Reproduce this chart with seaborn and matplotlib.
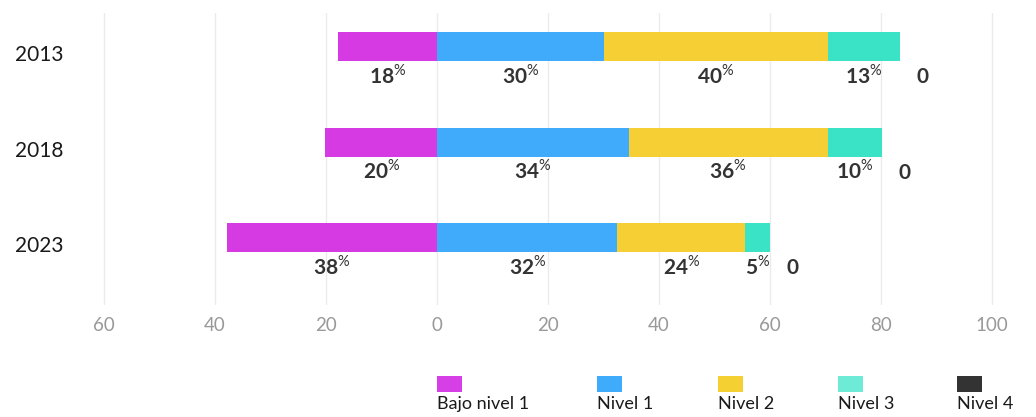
import numpy as np
import pandas as pd
import matplotlib.pyplot as plt
import matplotlib.transforms as mtransforms
from matplotlib.patches import Rectangle
import seaborn as sns

# Data
years = ["2013", "2018", "2023"]
bajo_nivel1 = [17.8, 20.1, 37.9]
nivel1 = [30.0, 34.5, 32.5]
nivel2 = [40.5, 35.9, 23.0]
nivel3 = [12.9, 9.7, 4.5]
nivel4 = [0.0, 0.0, 0.0]

bajo_lbl = [18, 20, 38]
n1_lbl = [30, 34, 32]
n2_lbl = [40, 36, 24]
n3_lbl = [13, 10, 5]
n4_lbl = [0, 0, 0]

legend_names = ["Bajo nivel 1", "Nivel 1", "Nivel 2", "Nivel 3", "Nivel 4"]
bar_colors = ["#d63be3", "#3fabfa", "#f5cf33", "#3ae2c6", "#333333"]
legend_colors = ["#d63ee6", "#3fabfb", "#f5d033", "#6eebd7", "#333333"]
xticks = [-60, -40, -20, 0, 20, 40, 60, 80, 100]

# Style
sns.set_style("white")
plt.rcParams["font.family"] = ["Lato", "DejaVu Sans"]
plt.rcParams["mathtext.fontset"] = "custom"
plt.rcParams["mathtext.rm"] = "Lato"
plt.rcParams["mathtext.bf"] = "Lato:bold"

df = pd.DataFrame({"year": years, "bajo": bajo_nivel1, "n1": nivel1,
                   "n2": nivel2, "n3": nivel3, "n4": nivel4})
df["c1"] = df["n1"]
df["c2"] = df["c1"] + df["n2"]
df["c3"] = df["c2"] + df["n3"]
df["c4"] = df["c3"] + df["n4"]
df["neg"] = -df["bajo"]

fig = plt.figure(figsize=(10.36, 4.17), dpi=100)
ax = fig.add_axes([0.0736, 0.269, 0.9108, 0.700])

bw = 0.304
# stacked by drawing cumulative totals first, then overlaying
for col, c in [("c4", bar_colors[4]), ("c3", bar_colors[3]), ("c2", bar_colors[2]),
               ("c1", bar_colors[1]), ("neg", bar_colors[0])]:
    sns.barplot(data=df, x=col, y="year", orient="h", color=c, saturation=1,
                width=bw, errorbar=None, linewidth=0, ax=ax)

ax.set_xlim(-65, 105)
ax.set_ylim(2.705, -0.353)
ax.set_xticks(xticks)
ax.set_xticklabels([str(abs(t)) for t in xticks], color="#999999", fontsize=13.5)
ax.tick_params(axis="x", length=0, pad=9)
ax.tick_params(axis="y", length=0, pad=9, labelsize=15, labelcolor="#1a1a1a")
ax.set_xlabel("")
ax.set_ylabel("")
ax.grid(axis="x", color="#ebebeb", linewidth=1)
ax.grid(axis="y", visible=False)
ax.set_axisbelow(True)
sns.despine(ax=ax, left=True, bottom=True)

# nudge year labels down a bit, like the original
off = mtransforms.ScaledTranslation(0, -6.5 / 100, fig.dpi_scale_trans)
for lab in ax.get_yticklabels():
    lab.set_transform(lab.get_transform() + off)

# segment labels under each bar
def seg_label(x, y, val):
    ax.annotate(r"$\mathbf{%d}^{\mathrm{\%%}}$" % val, xy=(x, y), xytext=(0, -26.5),
                textcoords="offset points", ha="center", va="baseline",
                fontsize=15, color="#333333")

for i in range(len(years)):
    seg_label(-bajo_nivel1[i] / 2, i, bajo_lbl[i])
    seg_label(df["c1"][i] / 2, i, n1_lbl[i])
    seg_label(df["c1"][i] + nivel2[i] / 2, i, n2_lbl[i])
    seg_label(df["c2"][i] + nivel3[i] / 2, i, n3_lbl[i])
    ax.annotate(str(n4_lbl[i]), xy=(df["c4"][i], i), xytext=(16.5, -26.5),
                textcoords="offset points", ha="center", va="baseline",
                fontsize=15, fontweight="bold", color="#333333")

# legend: swatch above each name
leg_x = [437, 597, 718, 838, 957]
W, H = 1036, 417
for lx, name, c in zip(leg_x, legend_names, legend_colors):
    fig.add_artist(Rectangle((lx / W, (H - 392) / H), 25 / W, 16 / H,
                             transform=fig.transFigure, color=c, lw=0))
    fig.text(lx / W, (H - 404) / H, name, ha="left", va="center",
             fontsize=13, color="#1a1a1a")

fig.savefig("out.png", dpi=100, facecolor="white")
